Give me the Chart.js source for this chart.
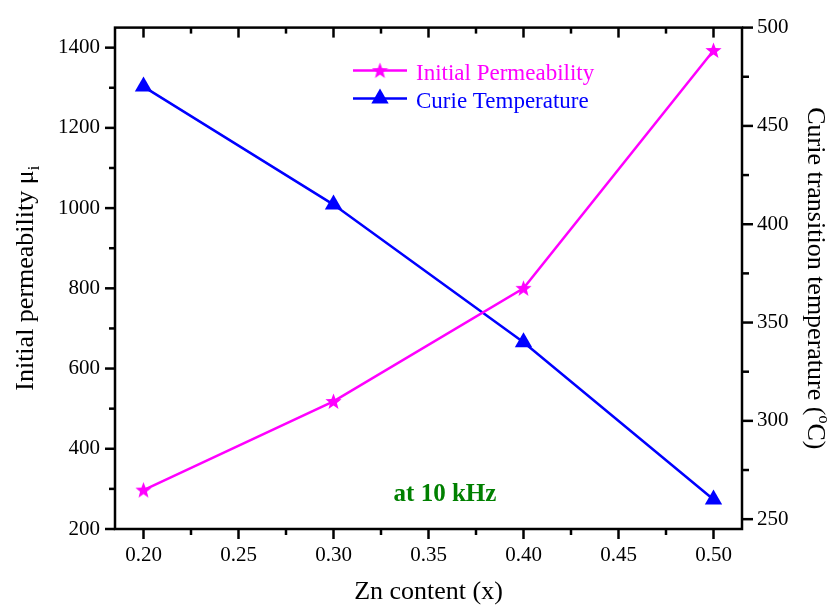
<!DOCTYPE html>
<html>
<head>
<meta charset="utf-8">
<script src="https://cdn.jsdelivr.net/npm/chart.js@4.4.0/dist/chart.umd.min.js"></script>
<style>
  html, body { margin: 0; padding: 0; background: #fff; }
  canvas { display: block; }
</style>
</head>
<body>
<canvas id="curieChart" width="840" height="607"></canvas>
<script>
// data
const znContent    = [0.20, 0.30, 0.40, 0.50];
const permeability = [297, 518, 800, 1393];
const curieTemp    = [470, 410, 340, 260];

const xTickVals    = [0.20, 0.25, 0.30, 0.35, 0.40, 0.45, 0.50];
const permTickVals = [200, 400, 600, 800, 1000, 1200, 1400];
const tempTickVals = [250, 300, 350, 400, 450, 500];

const seriesLabels = ['Initial Permeability', 'Curie Temperature'];
const noteText = 'at 10 kHz';

const SERIF = '"Liberation Serif", "Times New Roman", serif';

// filled five point star for the permeability markers
function makeStar(size, color) {
  const c = document.createElement('canvas');
  c.width = size; c.height = size;
  const g = c.getContext('2d');
  const cx = size / 2, cy = size / 2 + 0.5, ro = size / 2, ri = ro * 0.42;
  g.beginPath();
  for (let k = 0; k < 10; k++) {
    const r = k % 2 ? ri : ro;
    const a = -Math.PI / 2 + k * Math.PI / 5;
    g.lineTo(cx + r * Math.cos(a), cy + r * Math.sin(a));
  }
  g.closePath();
  g.fillStyle = color;
  g.fill();
  return c;
}
const starImg = makeStar(17, '#ff00ff');

// text with sub/superscript parts
function drawRich(ctx, parts, size, x, y) {
  const fontFor = p => (p.sub || p.sup ? Math.round(size * 0.62) : size) + 'px ' + SERIF;
  let total = 0;
  parts.forEach(p => { ctx.font = fontFor(p); total += ctx.measureText(p.t).width; });
  let cx = x - total / 2;
  ctx.textAlign = 'left';
  ctx.textBaseline = 'alphabetic';
  parts.forEach(p => {
    ctx.font = fontFor(p);
    const dy = p.sub ? size * 0.22 : p.sup ? -size * 0.42 : 0;
    ctx.fillText(p.t, cx, y + dy);
    cx += ctx.measureText(p.t).width;
  });
}

const mids = v => v.slice(0, -1).map((t, i) => (t + v[i + 1]) / 2);

const framePlugin = {
  id: 'frame',
  afterDraw(chart) {
    const { ctx, chartArea: a, scales } = chart;
    ctx.save();
    ctx.strokeStyle = '#000';
    ctx.lineWidth = 2.5;
    ctx.strokeRect(a.left, a.top, a.right - a.left, a.bottom - a.top);

    const vTicks = (scale, vals, y0, len) => vals.forEach(v => {
      const px = scale.getPixelForValue(v);
      if (px < a.left - 0.5 || px > a.right + 0.5) return;
      ctx.beginPath(); ctx.moveTo(px, y0); ctx.lineTo(px, y0 + len); ctx.stroke();
    });
    const hTicks = (scale, vals, x0, len) => vals.forEach(v => {
      const py = scale.getPixelForValue(v);
      if (py < a.top - 0.5 || py > a.bottom + 0.5) return;
      ctx.beginPath(); ctx.moveTo(x0, py); ctx.lineTo(x0 + len, py); ctx.stroke();
    });

    // bottom (outward) and top (inward)
    vTicks(scales.x, xTickVals, a.bottom, 10);
    vTicks(scales.x, mids(xTickVals), a.bottom, 6);
    vTicks(scales.x, xTickVals, a.top, 10);
    vTicks(scales.x, mids(xTickVals), a.top, 6);
    // left and right, outward
    hTicks(scales.y, permTickVals, a.left, -10);
    hTicks(scales.y, mids(permTickVals), a.left, -6);
    hTicks(scales.y2, tempTickVals, a.right, 11);
    hTicks(scales.y2, mids(tempTickVals), a.right, 7);

    // axis titles
    ctx.fillStyle = '#000';
    drawRich(ctx, [{ t: 'Zn content (x)' }], 26, (a.left + a.right) / 2, 599);

    ctx.save();
    ctx.translate(33, (a.top + a.bottom) / 2);
    ctx.rotate(-Math.PI / 2);
    drawRich(ctx, [{ t: 'Initial permeability \u03bc' }, { t: 'i', sub: true }], 26, 0, 0);
    ctx.restore();

    ctx.save();
    ctx.translate(808, (a.top + a.bottom) / 2);
    ctx.rotate(Math.PI / 2);
    drawRich(ctx, [{ t: 'Curie transition temperature (' }, { t: 'o', sup: true }, { t: 'C)' }], 26, 0, 0);
    ctx.restore();

    // note
    ctx.font = 'bold 25px ' + SERIF;
    ctx.fillStyle = '#008000';
    ctx.textAlign = 'center';
    ctx.textBaseline = 'alphabetic';
    ctx.fillText(noteText, a.left + 330, a.bottom - 28);

    // legend: line + marker + coloured label
    chart.data.datasets.forEach((ds, i) => {
      const y = a.top + 43 + i * 28;
      const x0 = a.left + 238;
      ctx.strokeStyle = ds.borderColor;
      ctx.lineWidth = 2.5;
      ctx.beginPath(); ctx.moveTo(x0, y); ctx.lineTo(x0 + 54, y); ctx.stroke();
      ctx.fillStyle = ds.borderColor;
      Chart.helpers.drawPoint(ctx, { pointStyle: ds.pointStyle, radius: ds.pointRadius, borderWidth: 0, rotation: 0 }, x0 + 27, y);
      ctx.font = '23px ' + SERIF;
      ctx.fillStyle = ds.borderColor;
      ctx.textAlign = 'left';
      ctx.textBaseline = 'alphabetic';
      ctx.fillText(ds.label, x0 + 63, y + 9);
    });
    ctx.restore();
  }
};

const tickFont = { family: SERIF, size: 21 };

new Chart(document.getElementById('curieChart'), {
  type: 'line',
  data: {
    datasets: [{
      label: seriesLabels[0],
      data: znContent.map((x, i) => ({ x, y: permeability[i] })),
      yAxisID: 'y',
      borderColor: '#ff00ff',
      backgroundColor: '#ff00ff',
      borderWidth: 2.5,
      pointStyle: starImg,
      pointRadius: 8,
      tension: 0,
      clip: false,
    }, {
      label: seriesLabels[1],
      data: znContent.map((x, i) => ({ x, y: curieTemp[i] })),
      yAxisID: 'y2',
      borderColor: '#0000ff',
      backgroundColor: '#0000ff',
      pointBackgroundColor: '#0000ff',
      borderWidth: 2.5,
      pointBorderWidth: 0,
      pointStyle: 'triangle',
      pointRadius: 10,
      tension: 0,
      clip: false,
    }]
  },
  options: {
    responsive: false,
    animation: false,
    layout: { padding: { top: 22, left: 0, right: 0, bottom: 0 } },
    scales: {
      x: {
        type: 'linear',
        min: 0.185, max: 0.515,
        grid: { display: false, drawTicks: false },
        border: { display: false },
        afterBuildTicks: s => { s.ticks = xTickVals.map(v => ({ value: v })); },
        afterFit: s => { s.height = 78; },
        ticks: { font: tickFont, color: '#000', padding: 14, maxRotation: 0, callback: v => v.toFixed(2) }
      },
      y: {
        position: 'left',
        min: 200, max: 1450,
        grid: { display: false, drawTicks: false },
        border: { display: false },
        afterBuildTicks: s => { s.ticks = permTickVals.map(v => ({ value: v })); },
        afterFit: s => { s.width = 115; },
        ticks: { font: tickFont, color: '#000', padding: 15, callback: v => String(v) }
      },
      y2: {
        position: 'right',
        min: 245, max: 500,
        grid: { display: false, drawTicks: false },
        border: { display: false },
        afterBuildTicks: s => { s.ticks = tempTickVals.map(v => ({ value: v })); },
        afterFit: s => { s.width = 98; },
        ticks: { font: tickFont, color: '#000', padding: 15, callback: v => String(v) }
      }
    },
    plugins: {
      legend: { display: false },
      tooltip: { enabled: false }
    }
  },
  plugins: [framePlugin]
});
</script>
</body>
</html>
